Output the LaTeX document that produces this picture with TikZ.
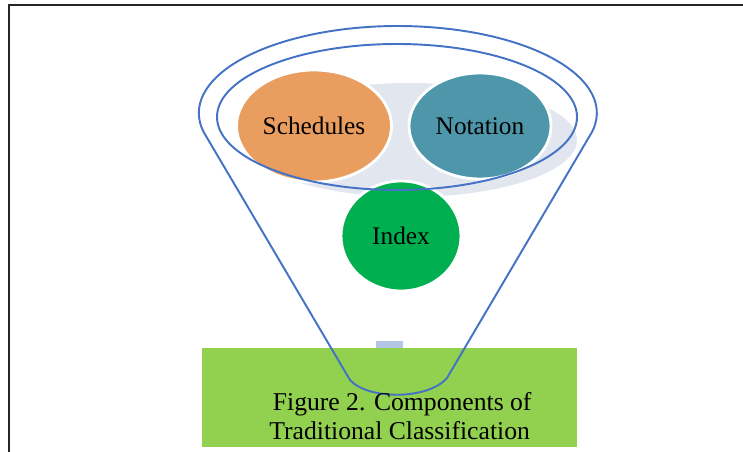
\documentclass[tikz,border=0pt]{standalone}
\usepackage{fontspec}
\setmainfont{Liberation Serif}
\usepackage{xcolor}
\usetikzlibrary{shapes.geometric}

\definecolor{funnelblue}{HTML}{4472C4}
\definecolor{schedorange}{HTML}{E99D5E}
\definecolor{notateal}{HTML}{4E97AB}
\definecolor{indexgreen}{HTML}{00B050}
\definecolor{capgreen}{HTML}{92D050}
\definecolor{shadegray}{HTML}{E2E6EF}
\definecolor{stemblue}{HTML}{B4C6E4}

\begin{document}
\begin{tikzpicture}[x=0.02cm, y=0.02cm,
  comp/.style={ellipse, draw=white, line width=1.6pt, inner sep=0pt, text=black,
    font=\fontsize{14.4}{17}\selectfont},
  funnel/.style={draw=funnelblue, line width=1.1pt, line join=round}
]
  \useasboundingbox (0,0) rectangle (743,452);

  % page frame
  \draw[line width=0.9pt, black!85] (9,0) -- (9,447) -- (743,447);

  % caption box and the spout above it
  \fill[capgreen] (202,5) rectangle (577,104);
  \fill[stemblue] (376,104) rectangle (403,111);

  % shade in the mouth of the funnel
  \fill[shadegray] (410,312) ellipse[x radius=167, y radius=57];

  \node[comp, fill=schedorange, minimum width=3.1cm, minimum height=2.24cm] (sched) at (314,326) {Schedules};
  \node[comp, fill=notateal, minimum width=2.84cm, minimum height=2.12cm] (notat) at (480,326) {\raisebox{-2pt}{Notation}};
  \node[comp, fill=indexgreen, minimum width=2.4cm, minimum height=2.2cm] (index) at (401,216) {Index};

  % funnel outline
  \draw[funnel] (592,320) arc[start angle=-12.6, end angle=192.6, x radius=199, y radius=87]
    -- (350,72) .. controls (368,52) and (428,52) .. (447,74) -- cycle;
  \draw[funnel] (397,335) ellipse[x radius=180, y radius=73];

  \node[anchor=west, align=left, inner sep=0pt, font=\fontsize{14.6}{16.8}\selectfont] (caption) at (269,36)
    {\hspace{2pt}Figure 2. Components of\\Traditional Classification};
\end{tikzpicture}
\end{document}
